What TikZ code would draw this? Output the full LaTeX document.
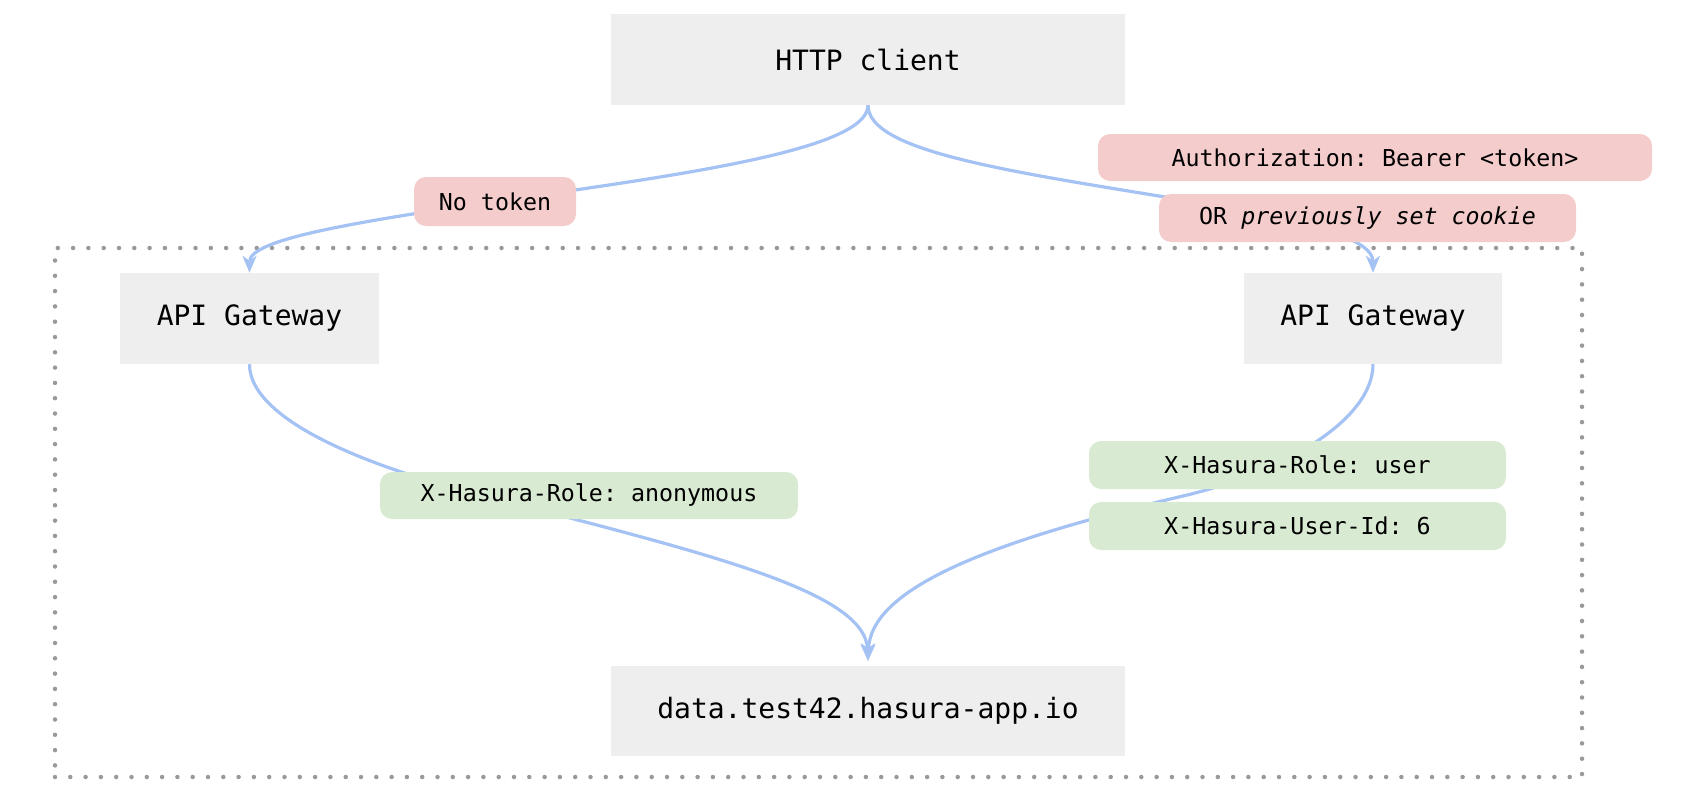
\documentclass[tikz,border=0pt]{standalone}
\usepackage{fontspec}
\setmonofont{DejaVu Sans Mono}
\usetikzlibrary{arrows.meta,backgrounds}
\definecolor{boxgray}{HTML}{EEEEEE}
\definecolor{pinkbg}{HTML}{F4CCCC}
\definecolor{greenbg}{HTML}{D9EAD3}
\definecolor{edgeblue}{HTML}{A4C2F4}
\definecolor{dotgray}{HTML}{999999}
\begin{document}
\begin{tikzpicture}[x=1pt,y=-1pt,
  box/.style={fill=boxgray, inner sep=0pt, font=\ttfamily\fontsize{28}{34}\selectfont},
  tag/.style={rounded corners=12pt, inner sep=0pt, minimum height=47pt, font=\ttfamily\fontsize{23.3}{28}\selectfont},
  redtag/.style={tag, fill=pinkbg},
  greentag/.style={tag, fill=greenbg},
  conn/.style={draw=edgeblue, line width=3.2pt, -{Stealth[length=17pt,width=14pt,inset=5pt]}},
  frame/.style={draw=dotgray, line width=4.5pt, line cap=round, dash pattern=on 0pt off 15.3pt}]
\useasboundingbox (0,0) rectangle (1692,800);

% boxes
\node[box, minimum width=514pt, minimum height=91pt] (http) at (868,59.5) {HTTP client};
\node[box, minimum width=259pt, minimum height=91pt] (gwL) at (249.5,318.5) {API Gateway};
\node[box, minimum width=258pt, minimum height=91pt] (gwR) at (1373,318.5) {API Gateway};
\node[box, minimum width=514pt, minimum height=90pt] (data) at (868,711) {data.test42.hasura-app.io};

% labels
\node[redtag, minimum width=162pt, minimum height=49pt] (notok) at (495,201.5) {No token};
\node[redtag, minimum width=554pt] (auth) at (1375,157.5) {Authorization: Bearer <token>};
\node[redtag, minimum width=417pt, minimum height=48pt] (orck) at (1367.5,218) {OR {\itshape previously set cookie}};
\node[greentag, minimum width=418pt] (anon) at (589,495.5) {X-Hasura-Role: anonymous};
\node[greentag, minimum width=417pt, minimum height=48pt] (role) at (1297.5,465) {X-Hasura-Role: user};
\node[greentag, minimum width=417pt, minimum height=48pt] (uid) at (1297.5,526) {X-Hasura-User-Id: 6};

\begin{scope}[on background layer]
  \node[frame, draw, inner sep=0pt, minimum width=1527pt, minimum height=529pt] (zone) at (818.5,512.5) {};
  % HTTP client -> left gateway
  \draw[conn] (http.south) .. controls (868,150) and (680,175) .. (notok.center)
              .. controls (345,223.5) and (249.5,240) .. (gwL.north);
  % HTTP client -> right gateway
  \draw[conn] (http.south) .. controls (868,150) and (1000,170) .. (1165,197)
              .. controls (1290,218) and (1373,235) .. (gwR.north);
  % left gateway -> data
  \draw[conn, shorten >=5pt] (gwL.south) .. controls (249.5,425) and (390,472) .. (470,492)
              .. controls (700,552) and (866,590) .. (data.north);
  % right gateway -> data
  \draw[conn, shorten >=5pt] (gwR.south) .. controls (1373,420) and (1283,472.5) .. (1183,496)
              .. controls (983,543) and (870,590) .. (data.north);
\end{scope}
\end{tikzpicture}
\end{document}
